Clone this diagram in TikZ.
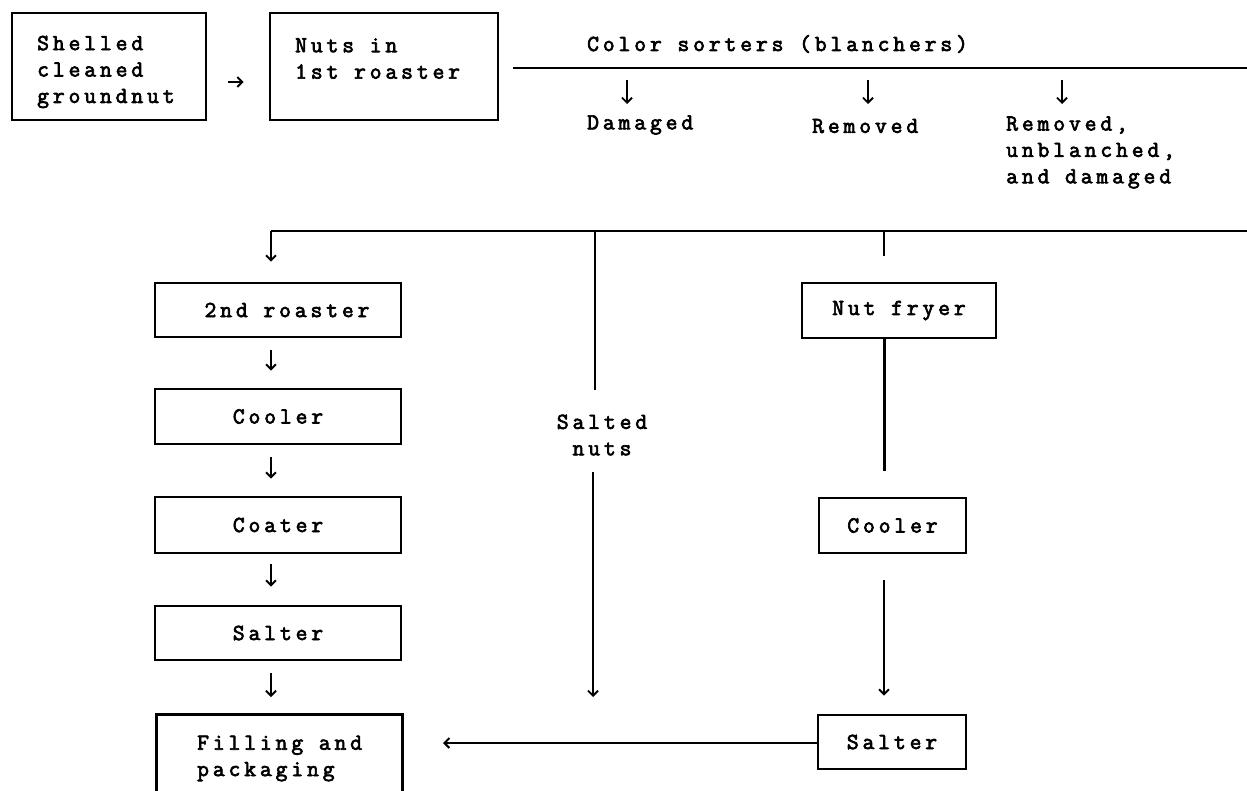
\documentclass[tikz,border=0pt]{standalone}
\usepackage{fontspec}
\newfontfamily\tw{Latin Modern Mono}[LetterSpace=17, FakeBold=3]
\usetikzlibrary{arrows.meta}
\begin{document}
\begin{tikzpicture}[x=1bp,y=-1bp,
  every node/.style={font=\tw\fontsize{23}{26.5}\selectfont, inner sep=0pt},
  box/.style={draw, line width=2.8bp, rectangle},
  ln/.style={line width=2.2bp},
  arr/.style={line width=1.9bp, -{Straight Barb[length=5bp,width=10bp,line width=1.9bp]}},
  thinarr/.style={line width=1.5bp, -{Straight Barb[length=5bp,width=10bp,line width=2bp]}},
  lbl/.style={align=left}]
\useasboundingbox (0,0) rectangle (1247,791);
\clip (0,0) rectangle (1247,791);
% top row
\node[box, minimum width=194bp, minimum height=107bp] (b1) at (109,66.5) {};
\node[lbl, anchor=west] (t1) at (37,72) {Shelled\\cleaned\\groundnut};
\node[box, minimum width=228bp, minimum height=107bp] (b2) at (384,66.5) {};
\node[lbl, anchor=west] (t2) at (295,58.5) {Nuts in\\1st roaster};
\draw[arr, shorten <=21bp, shorten >=25bp] (b1.east |- 0,82) -- (b2.west |- 0,82);
% color sorters
\coordinate (ts) at (513,68);
\coordinate (te) at (1247,68);
\draw[ln] (ts) -- (te);
\node[anchor=west] (cs) at (587,44) {Color sorters (blanchers)};
\node[anchor=west] (dm) at (587,125) {Damaged};
\node[anchor=west] (rm) at (812,126) {Removed};
\node[lbl, anchor=west] (rud) at (1006,152.5) {Removed,\\unblanched,\\and damaged};
\coordinate (a1s) at (627,80);  \coordinate (a1e) at (627,104);
\coordinate (a2s) at (868,80);  \coordinate (a2e) at (868,104);
\coordinate (a3s) at (1062,80); \coordinate (a3e) at (1062,104);
\draw[arr] (a1s) -- (a1e);
\draw[arr] (a2s) -- (a2e);
\draw[arr] (a3s) -- (a3e);
% second distribution line
\coordinate (bl) at (271,231);
\coordinate (br) at (1247,231);
\coordinate (sv) at (595,231);
\coordinate (sve) at (595,390);
\coordinate (fv) at (884,231);
\coordinate (fve) at (884,256);
% left column
\node[box, minimum width=246bp, minimum height=54bp] (r2) at (278,310) {\hspace*{18bp}2nd roaster};
\node[box, minimum width=246bp, minimum height=55bp] (c1) at (278,416.5) {Cooler};
\node[box, minimum width=246bp, minimum height=56bp] (co) at (278,525) {Coater};
\node[box, minimum width=246bp, minimum height=54bp] (sa) at (278,633) {Salter};
\node[box, minimum width=246bp, minimum height=120bp, anchor=north west] (fp) at (155,713) {};
\node[lbl, anchor=west] (ft) at (197,758.5) {Filling and\\packaging};
\draw[ln] (br) -- (bl);
\draw[arr, shorten >=20bp] (bl) -- (r2.north -| bl);
\draw[arr, shorten <=12bp, shorten >=17bp] (r2.south -| bl) -- (c1.north -| bl);
\draw[arr, shorten <=12bp, shorten >=17bp] (c1.south -| bl) -- (co.north -| bl);
\draw[arr, shorten <=10bp, shorten >=18bp] (co.south -| bl) -- (sa.north -| bl);
\draw[arr, shorten <=12bp, shorten >=16bp] (sa.south -| bl) -- (fp.north -| bl);
% middle
\draw[ln, line width=2.6bp] (sv) -- (sve);
\node[align=center] (sn) at (602,435) {Salted\\nuts};
\coordinate (sns) at (593,472);
\coordinate (sne) at (593,697);
\draw[arr, line width=2.6bp] (sns) -- (sne);
% right column
\draw[ln, line width=2.6bp] (fv) -- (fve);
\node[box, minimum width=194bp, minimum height=55bp] (nf) at (899,310.5) {Nut fryer};
\node[box, minimum width=147bp, minimum height=55bp] (c2) at (892.5,525.5) {Cooler};
\node[box, minimum width=148bp, minimum height=54bp] (s2) at (892,742) {Salter};
\coordinate (nfe) at (884,471);
\draw[ln, line width=3bp] (nf.south -| nfe) -- (nfe);
\draw[arr, line width=2.2bp, shorten <=26bp, shorten >=18bp] (c2.south -| nfe) -- (s2.north -| nfe);
\coordinate (fa) at (443,743);
\draw[thinarr] (s2.west |- fa) -- (fa);
\end{tikzpicture}
\end{document}
